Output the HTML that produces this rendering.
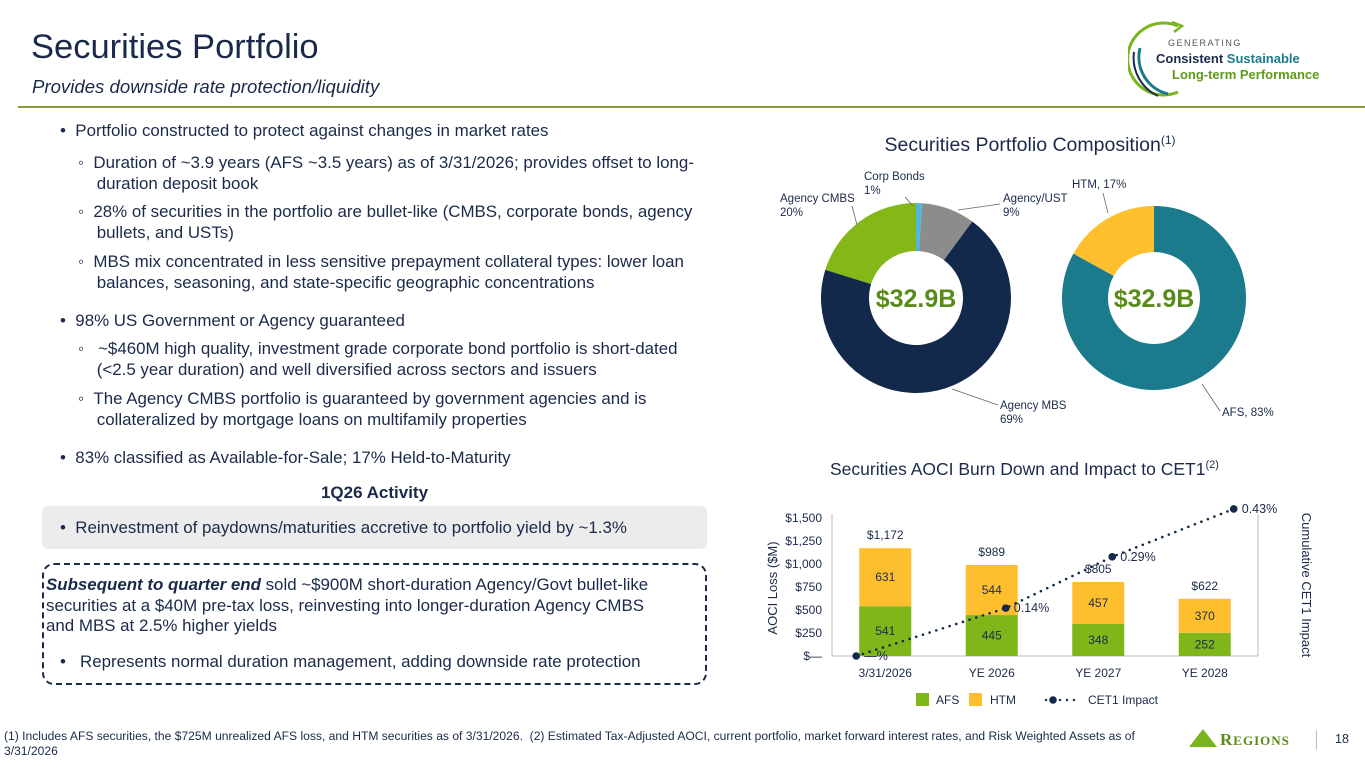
<!DOCTYPE html>
<html><head><meta charset="utf-8">
<style>
body{margin:0;width:1365px;height:768px;position:relative;overflow:hidden;background:#fff;font-family:"Liberation Sans",sans-serif;color:#1b2a4a}
.a{position:absolute;white-space:nowrap}
.t{font-size:16.9px;line-height:20.5px}
</style></head><body>
<div class="a" style="left:31px;top:28px;font-size:34.5px;color:#1b2a4a">Securities Portfolio</div>
<div class="a" style="left:32px;top:76px;font-size:18.6px;font-style:italic">Provides downside rate protection/liquidity</div>
<div class="a" style="left:18px;top:106px;width:1347px;height:2px;background:#8a9a3a"></div>

<div>
<svg class="a" style="left:1128px;top:18px" width="60" height="80">
<path d="M50 8 A36 36 0 1 0 50 74" fill="none" stroke="#7ab51d" stroke-width="3"/>
<path d="M44 4 L54 8 L46 14" fill="none" stroke="#7ab51d" stroke-width="2.5"/>
<path d="M12 30 A38 38 0 0 0 40 76" fill="none" stroke="#1b7a8b" stroke-width="3"/>
<path d="M6 34 A42 42 0 0 0 30 78" fill="none" stroke="#1b2a4a" stroke-width="2"/>
</svg>
<div class="a" style="left:1168px;top:38px;font-size:9px;letter-spacing:1.5px;color:#555">GENERATING</div>
<div class="a" style="left:1156px;top:51px;font-size:13px;font-weight:bold;color:#1b2a4a">Consistent <span style="color:#1b7a8b">Sustainable</span></div>
<div class="a" style="left:1172px;top:67px;font-size:13px;font-weight:bold;color:#5e9a1a">Long-term Performance</div>
</div>

<div>
<div class="a t" style="left:60px;top:121px">•&nbsp;&nbsp;Portfolio constructed to protect against changes in market rates</div>
<div class="a t" style="left:78px;top:153px">◦&nbsp;&nbsp;Duration of ~3.9 years (AFS ~3.5 years) as of 3/31/2026; provides offset to long-<br>&nbsp;&nbsp;&nbsp;&nbsp;duration deposit book</div>
<div class="a t" style="left:78px;top:202px">◦&nbsp;&nbsp;28% of securities in the portfolio are bullet-like (CMBS, corporate bonds, agency<br>&nbsp;&nbsp;&nbsp;&nbsp;bullets, and USTs)</div>
<div class="a t" style="left:78px;top:252px">◦&nbsp;&nbsp;MBS mix concentrated in less sensitive prepayment collateral types: lower loan<br>&nbsp;&nbsp;&nbsp;&nbsp;balances, seasoning, and state-specific geographic concentrations</div>
<div class="a t" style="left:60px;top:311px">•&nbsp;&nbsp;98% US Government or Agency guaranteed</div>
<div class="a t" style="left:78px;top:339px">◦&nbsp;&nbsp;&nbsp;~$460M high quality, investment grade corporate bond portfolio is short-dated<br>&nbsp;&nbsp;&nbsp;&nbsp;(&lt;2.5 year duration) and well diversified across sectors and issuers</div>
<div class="a t" style="left:78px;top:389px">◦&nbsp;&nbsp;The Agency CMBS portfolio is guaranteed by government agencies and is<br>&nbsp;&nbsp;&nbsp;&nbsp;collateralized by mortgage loans on multifamily properties</div>
<div class="a t" style="left:60px;top:448px">•&nbsp;&nbsp;83% classified as Available-for-Sale; 17% Held-to-Maturity</div>
</div>
<div class="a" style="left:42px;width:665px;text-align:center;top:483px;font-size:17px;font-weight:bold">1Q26 Activity</div>
<div class="a t" style="left:42px;top:506px;width:665px;height:43px;background:#ececec;border-radius:6px;line-height:43px"><span style="padding-left:18px">•&nbsp;&nbsp;Reinvestment of paydowns/maturities accretive to portfolio yield by ~1.3%</span></div>
<div class="a" style="left:42px;top:563px;width:661px;height:118px;border:2.5px dashed #1b2a4a;border-radius:12px"></div>
<div class="a t" style="left:46px;top:575px"><b><i>Subsequent to quarter end</i></b> sold ~$900M short-duration Agency/Govt bullet-like<br>securities at a $40M pre-tax loss, reinvesting into longer-duration Agency CMBS<br>and MBS at 2.5% higher yields</div>
<div class="a t" style="left:60px;top:652px">•&nbsp;&nbsp;&nbsp;Represents normal duration management, adding downside rate protection</div>

<div class="a" style="left:4px;top:729px;font-size:12.1px;line-height:15px">(1) Includes AFS securities, the $725M unrealized AFS loss, and HTM securities as of 3/31/2026.&nbsp; (2) Estimated Tax-Adjusted AOCI, current portfolio, market forward interest rates, and Risk Weighted Assets as of<br>3/31/2026</div>
<svg class="a" style="left:1188px;top:728px" width="30" height="20"><polygon points="15,1 29,19 1,19" fill="#7ab51d"/></svg>
<div class="a" style="left:1220px;top:730px;font-family:'Liberation Serif',serif;font-weight:bold;font-size:17px;color:#5e8a1a;letter-spacing:1px">R<span style="font-size:13px">EGIONS</span></div>
<div class="a" style="left:1316px;top:730px;width:1px;height:20px;background:#bbb"></div>
<div class="a" style="left:1335px;top:732px;font-size:12.5px">18</div>

<svg id="charts" class="a" style="left:0;top:0" width="1365" height="768" font-family="Liberation Sans, sans-serif">
<text x="1030" y="151" text-anchor="middle" font-size="19.5" fill="#1b2a4a">Securities Portfolio Composition<tspan font-size="12" dy="-7">(1)</tspan></text>
<text x="830" y="475" font-size="17.5" fill="#1b2a4a">Securities AOCI Burn Down and Impact to CET1<tspan font-size="11" dy="-7">(2)</tspan></text>
</svg>

<script>
// Donut data
const compLabels = ["Corp Bonds","Agency/UST","Agency MBS","Agency CMBS"];
const compValues = [1, 9, 69, 20];
const compColors = ["#4fb8de","#8c8c8c","#13294b","#84b818"];
const typeLabels = ["AFS","HTM"];
const typeValues = [83, 17];
const typeColors = ["#1b7a8b","#fdbf2d"];
// Bar chart data
const categories = ["3/31/2026","YE 2026","YE 2027","YE 2028"];
const afsValues = [541, 445, 348, 252];
const htmValues = [631, 544, 457, 370];
const cet1Values = [0, 0.14, 0.29, 0.43];
const cet1Labels = ["—%","0.14%","0.29%","0.43%"];
const yTicks = [0, 250, 500, 750, 1000, 1250, 1500];
const yTickLabels = ["$—","$250","$500","$750","$1,000","$1,250","$1,500"];

const svg = document.getElementById('charts');
const NS = 'http://www.w3.org/2000/svg';
function mk(tag, attrs, parent){const e=document.createElementNS(NS,tag);for(const k in attrs)e.setAttribute(k,attrs[k]);(parent||svg).appendChild(e);return e;}
function txt(x,y,s,size,fill,anchor,parent){const t=mk('text',{x:x,y:y,'font-size':size,fill:fill,'text-anchor':anchor||'start'},parent);t.textContent=s;return t;}

function donut(cx,cy,R,r,values,colors,name){
  const total=values.reduce((a,b)=>a+b,0);
  let a0=0;
  values.forEach((v,i)=>{
    const a1=a0+v/total*Math.PI*2;
    const p=(a,rad)=>[cx+rad*Math.sin(a),cy-rad*Math.cos(a)];
    const [x0,y0]=p(a0,R),[x1,y1]=p(a1,R),[x2,y2]=p(a1,r),[x3,y3]=p(a0,r);
    const lg=(a1-a0)>Math.PI?1:0;
    const path=mk('path',{d:`M${x0} ${y0} A${R} ${R} 0 ${lg} 1 ${x1} ${y1} L${x2} ${y2} A${r} ${r} 0 ${lg} 0 ${x3} ${y3}Z`,fill:colors[i]});
    
    
    a0=a1;
  });
  const c=txt(cx,cy+9,'$32.9B',25,'#5a8a1a','middle');
  c.setAttribute('font-weight','bold');
  
  
}
donut(916,298,95,47,compValues,compColors,'composition-donut');
donut(1154,298,92,46,typeValues,typeColors,'type-donut');

const lbl=(x,y,lines,name,lx1,ly1,lx2,ly2)=>{
  const g=mk('g',{});
  
  
  lines.forEach((s,i)=>txt(x,y+i*14,s,11.5,'#1b2a4a','start',g));
  mk('line',{x1:lx1,y1:ly1,x2:lx2,y2:ly2,stroke:'#666','stroke-width':0.8},g);
};
lbl(864,180,[compLabels[0],compValues[0]+'%'],'label-corp-bonds',905,197,913,206);
lbl(1003,202,[compLabels[1],compValues[1]+'%'],'label-agency-ust',1000,204,958,210);
lbl(1000,409,[compLabels[2],compValues[2]+'%'],'label-agency-mbs',998,405,952,389);
lbl(780,202,[compLabels[3],compValues[3]+'%'],'label-agency-cmbs',852,206,857,225);
lbl(1072,188,[typeLabels[1]+', '+typeValues[1]+'%'],'label-htm',1103,193,1108,213);
lbl(1222,416,[typeLabels[0]+', '+typeValues[0]+'%'],'label-afs',1220,411,1202,384);

// bar chart
const plotL=832, plotR=1258, y0=656, yPerUnit=0.092, rPerPct=342;
const yS=v=>y0-v*yPerUnit, yR=p=>y0-p*rPerPct;
const band=(plotR-plotL)/categories.length, bw=52;
const xC=i=>plotL+band*(i+0.5);
mk('line',{x1:plotL,y1:yS(1540),x2:plotL,y2:y0,stroke:'#bbb'});
mk('line',{x1:plotR,y1:yS(1540),x2:plotR,y2:y0,stroke:'#bbb'});
mk('line',{x1:plotL,y1:y0,x2:plotR,y2:y0,stroke:'#bbb'});
yTicks.forEach((v,i)=>{const t=txt(plotL-10,yS(v)+4,yTickLabels[i],12,'#1b2a4a','end');
  
  });
const yt=txt(0,0,'AOCI Loss ($M)',13,'#1b2a4a','middle');
yt.setAttribute('transform','translate(777,588) rotate(-90)');


const rt=txt(0,0,'Cumulative CET1 Impact',13,'#1b2a4a','middle');
rt.setAttribute('transform','translate(1302,585) rotate(90)');


categories.forEach((c,i)=>{
  const x=xC(i);
  const a=mk('rect',{x:x-bw/2,y:yS(afsValues[i]),width:bw,height:y0-yS(afsValues[i]),fill:'#7fb61a'});
  
  
  const tot=afsValues[i]+htmValues[i];
  const h=mk('rect',{x:x-bw/2,y:yS(tot),width:bw,height:yS(afsValues[i])-yS(tot),fill:'#fdbf2d'});
  
  
  txt(x,(yS(afsValues[i])+y0)/2+4,String(afsValues[i]),12,'#1b2a4a','middle');
  txt(x,(yS(afsValues[i])+yS(tot))/2+4,String(htmValues[i]),12,'#1b2a4a','middle');
  const tl=txt(x,yS(tot)-9,'$'+tot.toLocaleString('en-US'),12,'#1b2a4a','middle');
  
  
  const xl=txt(x,y0+21,c,12,'#1b2a4a','middle');
  
  
});
const pts=cet1Values.map((p,i)=>[xC(i)+(i===0?-29:i===3?29:14),yR(p)]);
const ln=mk('polyline',{points:pts.map(p=>p.join(',')).join(' '),fill:'none',stroke:'#13294b','stroke-width':2.6,'stroke-dasharray':'0 7','stroke-linecap':'round'});


pts.forEach((p,i)=>{
  const c=mk('circle',{cx:p[0],cy:p[1],r:3.8,fill:'#13294b'});
  
  
  txt(p[0]+8,p[1]+4,cet1Labels[i],12.5,'#1b2a4a','start');
});
const lg=mk('g',{});


mk('rect',{x:916,y:693,width:13,height:13,fill:'#7fb61a'},lg);
txt(936,704,'AFS',12,'#1b2a4a','start',lg);
mk('rect',{x:969,y:693,width:13,height:13,fill:'#fdbf2d'},lg);
txt(990,704,'HTM',12,'#1b2a4a','start',lg);
mk('line',{x1:1046,y1:700,x2:1076,y2:700,stroke:'#13294b','stroke-width':2.4,'stroke-dasharray':'0 7','stroke-linecap':'round'},lg);
mk('circle',{cx:1053,cy:700,r:3.8,fill:'#13294b'},lg);
txt(1088,704,'CET1 Impact',12,'#1b2a4a','start',lg);
</script>
</body></html>
